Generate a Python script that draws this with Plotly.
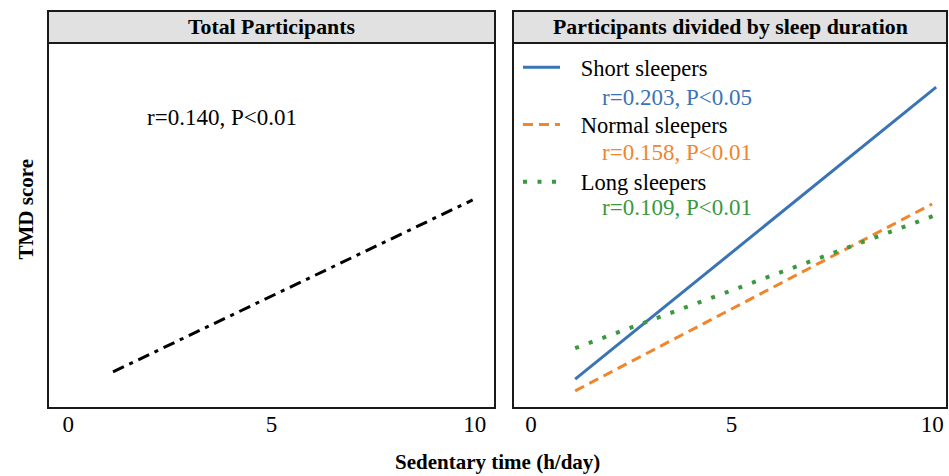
import plotly.graph_objects as go

# ---- data ----
x_total = [1.1, 9.95]
y_total = [9.9, 57.0]

x_short = [1.1, 10.1]
y_short = [7.9, 87.9]
x_normal = [1.1, 10.0]
y_normal = [4.7, 55.9]
x_long = [1.1, 10.1]
y_long = [16.4, 52.9]

tick_vals = [0, 5, 10]
tick_text = ["0", "5", "10"]

panel_titles = ["Total Participants", "Participants divided by sleep duration"]
stat_total = "r=0.140, P<0.01"
group_names = ["Short sleepers", "Normal sleepers", "Long sleepers"]
group_stats = ["r=0.203, P<0.05", "r=0.158, P<0.01", "r=0.109, P<0.01"]

BLUE = "#3a74b4"
ORANGE = "#f0852c"
GREEN = "#3a983f"
FONT = "Liberation Serif"
NB = "\u00a0\u00a0\u2009"

fig = go.Figure()

fig.add_trace(go.Scatter(x=x_total, y=y_total, mode="lines", xaxis="x", yaxis="y",
                         line=dict(color="black", width=3, dash="12px,6px,4px,6px"),
                         showlegend=False))

fig.add_trace(go.Scatter(x=x_short, y=y_short, mode="lines", xaxis="x2", yaxis="y2",
                         name=NB + group_names[0], legendgroup="a",
                         line=dict(color=BLUE, width=3)))
fig.add_trace(go.Scatter(x=x_normal, y=y_normal, mode="lines", xaxis="x2", yaxis="y2",
                         name=NB + group_names[1], legendgroup="b",
                         line=dict(color=ORANGE, width=3, dash="10px,6px")))
fig.add_trace(go.Scatter(x=x_long, y=y_long, mode="lines", xaxis="x2", yaxis="y2",
                         name=NB + group_names[2], legendgroup="c",
                         line=dict(color=GREEN, width=4, dash="4px,10.5px")))

ydom = [0, (408 - 43) / 397]
x1dom = [0, (495 - 48) / 899]
x2dom = [(513 - 48) / 899, 1]

axis_common = dict(showgrid=False, zeroline=False, showline=False, ticks="",
                   tickfont=dict(family=FONT, size=23, color="black"))

fig.update_layout(
    width=949, height=476,
    margin=dict(l=48, r=2, t=11, b=68),
    paper_bgcolor="white", plot_bgcolor="white",
    font=dict(family=FONT, color="black"),
    xaxis=dict(domain=x1dom, range=[-0.5, 10.5], tickvals=tick_vals, ticktext=tick_text, **axis_common),
    yaxis=dict(domain=ydom, range=[0, 100], showticklabels=False, **axis_common),
    xaxis2=dict(domain=x2dom, range=[-0.45, 10.37], tickvals=tick_vals, ticktext=tick_text,
                anchor="y2", **axis_common),
    yaxis2=dict(domain=ydom, range=[0, 100], showticklabels=False, anchor="x2", **axis_common),
    legend=dict(x=(518 - 48) / 899, y=1 - (46 - 11) / 397, xanchor="left", yanchor="top",
                bgcolor="rgba(0,0,0,0)", font=dict(family=FONT, size=22.5, color="black"),
                itemwidth=37, tracegroupgap=25, traceorder="grouped"),
)

# panel frames and header strips
for xr in ("x domain", "x2 domain"):
    fig.add_shape(type="rect", xref=xr, yref="paper", x0=0, x1=1, y0=ydom[1], y1=1,
                  fillcolor="#e1e1e1", line=dict(color="#1a1a1a", width=2), layer="below")
    fig.add_shape(type="rect", xref=xr, yref="paper", x0=0, x1=1, y0=0, y1=1,
                  fillcolor="rgba(0,0,0,0)", line=dict(color="#1a1a1a", width=2))

# header titles
for xr, t in (("x domain", panel_titles[0]), ("x2 domain", panel_titles[1])):
    fig.add_annotation(xref=xr, yref="paper", x=0.5, y=(1 + ydom[1]) / 2, text="<b>" + t + "</b>",
                       showarrow=False, font=dict(family=FONT, size=21.8, color="black"),
                       xanchor="center", yanchor="middle")

# stats
fig.add_annotation(xref="x", yref="y", x=1.89, y=79.5, text=stat_total, showarrow=False,
                   xanchor="left", yanchor="middle", font=dict(family=FONT, size=23, color="black"))
for txt, col, yy in zip(group_stats, [BLUE, ORANGE, GREEN], [85.2, 69.9, 54.8]):
    fig.add_annotation(xref="x2", yref="y2", x=1.72, y=yy, text=txt, showarrow=False,
                       xanchor="left", yanchor="middle", font=dict(family=FONT, size=23, color=col))

# axis titles
fig.add_annotation(xref="paper", yref="paper", x=0.5, y=-(462 - 408) / 397, text="<b>Sedentary time (h/day)</b>",
                   showarrow=False, xanchor="center", yanchor="middle",
                   font=dict(family=FONT, size=21, color="black"))
fig.add_annotation(xref="paper", yref="paper", x=-(48 - 25) / 899, y=0.5, text="<b>TMD score</b>",
                   textangle=-90, showarrow=False, xanchor="center", yanchor="middle",
                   font=dict(family=FONT, size=21, color="black"))

fig.write_html("out.html", config={"displayModeBar": False},
               post_script="document.body.style.margin='0';")
